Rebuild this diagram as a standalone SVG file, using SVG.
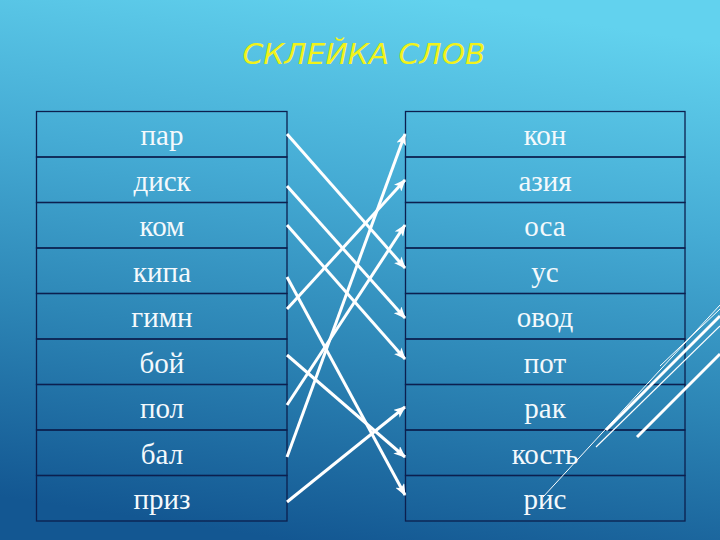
<svg xmlns="http://www.w3.org/2000/svg" width="720" height="540" viewBox="0 0 720 540">
  <defs>
    <linearGradient id="bg" x1="0.6" y1="0" x2="0.4" y2="1">
      <stop offset="0" stop-color="#62d2ee"/>
      <stop offset="0.35" stop-color="#45abd4"/>
      <stop offset="0.65" stop-color="#2d86b6"/>
      <stop offset="1" stop-color="#135792"/>
    </linearGradient>
    <marker id="ah" viewBox="0 0 12 10" refX="11" refY="5" markerWidth="12" markerHeight="10" markerUnits="userSpaceOnUse" orient="auto">
      <path d="M0,0 L12,5 L0,10 L3,5 z" fill="#ffffff"/>
    </marker>
    <style>
      .cell { fill: none; stroke: #0c1f4e; stroke-width: 1.3; }
      .word { font-family: "Liberation Serif", "DejaVu Serif", serif; font-size: 29px; fill: #f4f9fc; text-anchor: middle; }
      .arrow { stroke: #ffffff; stroke-width: 3; fill: none; marker-end: url(#ah); }
      .deco { stroke: #ffffff; fill: none; }
    </style>
  </defs>
  <rect x="0" y="0" width="720" height="540" fill="url(#bg)"/>

  <text x="364" y="64" font-family="DejaVu Sans, 'Liberation Sans', sans-serif" font-size="29" font-style="italic" fill="#f2f21a" text-anchor="middle" textLength="243" lengthAdjust="spacingAndGlyphs">СКЛЕЙКА СЛОВ</text>

  <g id="left-table">
    <g id="l1"><rect class="cell" x="36.5" y="111.5" width="250.5" height="45.5"/><text class="word" x="162" y="145">пар</text></g>
    <g id="l2"><rect class="cell" x="36.5" y="157" width="250.5" height="45.5"/><text class="word" x="162" y="191">диск</text></g>
    <g id="l3"><rect class="cell" x="36.5" y="202.5" width="250.5" height="45.5"/><text class="word" x="162" y="236">ком</text></g>
    <g id="l4"><rect class="cell" x="36.5" y="248" width="250.5" height="45.5"/><text class="word" x="162" y="282">кипа</text></g>
    <g id="l5"><rect class="cell" x="36.5" y="293.5" width="250.5" height="45.5"/><text class="word" x="162" y="327">гимн</text></g>
    <g id="l6"><rect class="cell" x="36.5" y="339" width="250.5" height="45.5"/><text class="word" x="162" y="373">бой</text></g>
    <g id="l7"><rect class="cell" x="36.5" y="384.5" width="250.5" height="45.5"/><text class="word" x="162" y="418">пол</text></g>
    <g id="l8"><rect class="cell" x="36.5" y="430" width="250.5" height="45.5"/><text class="word" x="162" y="464">бал</text></g>
    <g id="l9"><rect class="cell" x="36.5" y="475.5" width="250.5" height="45.5"/><text class="word" x="162" y="509">приз</text></g>
  </g>

  <g id="right-table">
    <g id="r1"><rect class="cell" x="405.5" y="111.5" width="279.5" height="45.5"/><text class="word" x="545" y="145">кон</text></g>
    <g id="r2"><rect class="cell" x="405.5" y="157" width="279.5" height="45.5"/><text class="word" x="545" y="191">азия</text></g>
    <g id="r3"><rect class="cell" x="405.5" y="202.5" width="279.5" height="45.5"/><text class="word" x="545" y="236">оса</text></g>
    <g id="r4"><rect class="cell" x="405.5" y="248" width="279.5" height="45.5"/><text class="word" x="545" y="282">ус</text></g>
    <g id="r5"><rect class="cell" x="405.5" y="293.5" width="279.5" height="45.5"/><text class="word" x="545" y="327">овод</text></g>
    <g id="r6"><rect class="cell" x="405.5" y="339" width="279.5" height="45.5"/><text class="word" x="545" y="373">пот</text></g>
    <g id="r7"><rect class="cell" x="405.5" y="384.5" width="279.5" height="45.5"/><text class="word" x="545" y="418">рак</text></g>
    <g id="r8"><rect class="cell" x="405.5" y="430" width="279.5" height="45.5"/><text class="word" x="545" y="464">кость</text></g>
    <g id="r9"><rect class="cell" x="405.5" y="475.5" width="279.5" height="45.5"/><text class="word" x="545" y="509">рис</text></g>
  </g>

  <g id="connectors">
    <line class="arrow" x1="287" y1="134" x2="405" y2="268"/>
    <line class="arrow" x1="287" y1="186" x2="405" y2="318"/>
    <line class="arrow" x1="287" y1="225" x2="405" y2="359"/>
    <line class="arrow" x1="287" y1="277" x2="405" y2="495"/>
    <line class="arrow" x1="287" y1="309" x2="405" y2="180"/>
    <line class="arrow" x1="287" y1="355" x2="405" y2="457"/>
    <line class="arrow" x1="287" y1="405" x2="405" y2="225"/>
    <line class="arrow" x1="287" y1="457" x2="405" y2="134"/>
    <line class="arrow" x1="287" y1="502" x2="405" y2="407"/>
  </g>

  <g id="decoration">
    <line class="deco" stroke-width="1" x1="543" y1="497" x2="720" y2="305"/>
    <line class="deco" stroke-width="1" x1="660" y1="366" x2="720" y2="309"/>
    <line class="deco" stroke-width="3" x1="606" y1="430" x2="720" y2="316"/>
    <line class="deco" stroke-width="1.2" x1="596" y1="447" x2="720" y2="326"/>
    <line class="deco" stroke-width="3" x1="637" y1="437" x2="720" y2="354"/>
  </g>
</svg>
